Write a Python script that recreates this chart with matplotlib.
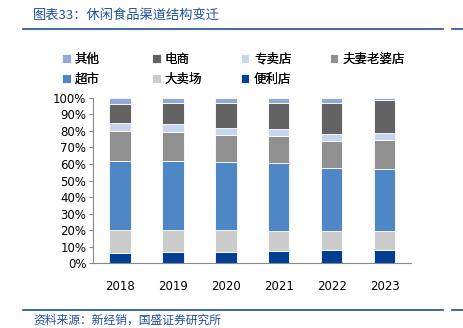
import matplotlib
matplotlib.use('Agg')
import matplotlib.pyplot as plt
import numpy as np

plt.rcParams['font.family'] = ['DejaVu Sans', 'Noto Sans CJK SC']

years = ['2018', '2019', '2020', '2021', '2022', '2023']
channels = ['便利店', '大卖场', '超市', '夫妻老婆店', '专卖店', '电商', '其他']
shares = {
    '便利店':   [6.2, 7.0, 7.0, 7.4, 7.8, 8.0],
    '大卖场':   [13.7, 13.3, 13.1, 12.3, 11.7, 11.3],
    '超市':     [41.9, 41.7, 40.9, 40.7, 38.0, 37.4],
    '夫妻老婆店': [18.3, 17.5, 16.3, 16.3, 16.1, 17.5],
    '专卖店':   [4.8, 4.8, 4.4, 4.2, 4.4, 4.3],
    '电商':     [11.3, 12.3, 15.1, 15.9, 19.1, 19.9],
    '其他':     [3.8, 3.4, 3.2, 3.2, 2.8, 1.6],
}
colors = {
    '便利店': '#003f94',
    '大卖场': '#cccccc',
    '超市': '#4f86c6',
    '夫妻老婆店': '#909090',
    '专卖店': '#c5d6ee',
    '电商': '#636363',
    '其他': '#8faad6',
}

fig = plt.figure(figsize=(4.64, 3.28), dpi=100)
ax = fig.add_axes([93.3 / 464, 1 - 263.3 / 328, (411 - 93.3) / 464, (263.3 - 97.7) / 328])

x = np.arange(len(years))
bottom = np.zeros(len(years))
handles = {}
for ch in channels:
    vals = np.array(shares[ch])
    h = ax.bar(x, vals, 0.41, bottom=bottom, color=colors[ch], edgecolor='white',
               linewidth=0.6, label=ch)
    handles[ch] = h
    bottom += vals

ax.set_xlim(-0.5, 5.5)
ax.set_ylim(0, 100)
ax.set_yticks(np.arange(0, 101, 10))
ax.set_yticklabels([f'{v}%' for v in range(0, 101, 10)], fontsize=8.5)
ax.set_xticks(x)
ax.set_xticklabels(years, fontsize=8.5)
ax.tick_params(axis='x', length=0, pad=12)
ax.tick_params(axis='y', length=3, color='#888888', pad=2)
for s in ['top', 'right']:
    ax.spines[s].set_visible(False)
ax.spines['left'].set_color('#888888')
ax.spines['bottom'].set_color('#888888')

# legend: 4 fixed-width columns, filled row by row
legend_rows = [['其他', '电商', '专卖店', '夫妻老婆店'], ['超市', '大卖场', '便利店']]
col_x = [53, 143, 232, 321]
for i, cx in enumerate(col_x):
    labels = [row[i] for row in legend_rows if i < len(row)]
    leg = fig.legend([handles[c] for c in labels], labels, loc='upper left',
                     bbox_to_anchor=(cx / 464, 1 - 44 / 328), frameon=False,
                     prop={'family': ['Noto Sans CJK SC'], 'size': 9},
                     handlelength=0.7, handleheight=0.7, handletextpad=0.35,
                     labelspacing=0.55, borderpad=0.2)
    fig.add_artist(leg)

blue = '#1f4e9c'
fig.text(33 / 464, 1 - 15 / 328, '图表33：休闲食品渠道结构变迁', color=blue, fontsize=9.5,
         family=['Noto Sans CJK SC'], va='center', ha='left', style='italic')
fig.add_artist(plt.Line2D([23 / 464, 443 / 464], [1 - 29 / 328] * 2, color=blue, lw=1.2))
fig.add_artist(plt.Line2D([452 / 464, 1.0], [1 - 29 / 328] * 2, color=blue, lw=1.2))
fig.add_artist(plt.Line2D([23 / 464, 443 / 464], [1 - 310 / 328] * 2, color=blue, lw=1.2))
fig.add_artist(plt.Line2D([452 / 464, 1.0], [1 - 310 / 328] * 2, color=blue, lw=1.2))
fig.text(33 / 464, 1 - 320 / 328, '资料来源：新经销，国盛证券研究所', color=blue, fontsize=8.5,
         family=['Noto Sans CJK SC'], va='center', ha='left', style='italic')

fig.savefig('out.png', dpi=100)
